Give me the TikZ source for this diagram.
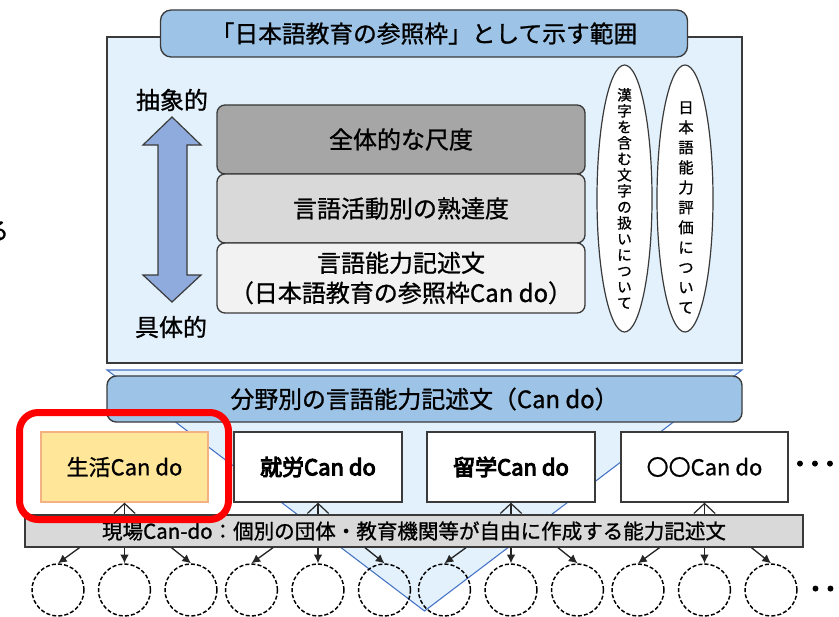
\documentclass[tikz,border=0pt]{standalone}
\usepackage{fontspec}
\setmainfont{Noto Sans CJK JP}[RawFeature={embolden=1}]
\newfontfamily\cjkbold[RawFeature={embolden=4.5}]{Noto Sans CJK JP}
\newfontfamily\cjkdots[RawFeature={embolden=3}]{Noto Sans CJK JP}
\usetikzlibrary{arrows.meta,calc,shapes.geometric}
\definecolor{paleblue}{HTML}{E2F1FC}
\definecolor{midblue}{HTML}{9DC3E6}
\definecolor{arrowblue}{HTML}{8FAADC}
\definecolor{edgeblue}{HTML}{4472C4}
\definecolor{dk}{HTML}{3A3A3A}
\definecolor{gA}{HTML}{A6A6A6}
\definecolor{gB}{HTML}{D9D9D9}
\definecolor{gC}{HTML}{F2F2F2}
\definecolor{yel}{HTML}{FFE699}
\definecolor{org}{HTML}{F4B183}
\tikzset{
  pane/.style={draw=dk, line width=1pt, inner sep=0pt},
  bigtxt/.style={font=\fontsize{18pt}{22.5pt}\selectfont},
  ladder/.style={pane, rounded corners=6pt, minimum width=368*0.75pt, align=center, bigtxt},
  oval/.style={ellipse, draw=dk, fill=white, line width=0.9pt, inner sep=0pt},
  cdbox/.style={pane, fill=white, minimum height=70*0.75pt, font=\fontsize{16.5pt}{20pt}\selectfont},
  ring/.style={circle, draw=black, dash pattern=on 3pt off 1.6pt, line width=1.1pt, minimum size=52*0.75pt, inner sep=0pt},
  uparr/.style={draw=black!85, line width=0.9pt, -{Straight Barb[length=7.5pt,width=16pt]}},
  dnarr/.style={draw=black!85, line width=1pt, -{Latex[length=6.5pt,width=6.5pt]}},
  dots/.style={font=\cjkdots\fontsize{22.5pt}{22.5pt}\selectfont, inner sep=0pt},
}
\begin{document}
\begin{tikzpicture}[x=0.75pt,y=-0.75pt]
\useasboundingbox (0,0) rectangle (839,617);
\clip (0,0) rectangle (839,617);
% cropped character at the left edge
\node[bigtxt, inner sep=0pt] (frag) at (-3,231) {る};
% background triangle
\filldraw[fill=paleblue, draw=edgeblue, line width=0.8pt] (107,370) -- (742,370) -- (424.5,611) -- cycle;
% main frame
\node[pane, fill=paleblue, minimum width=635*0.75pt, minimum height=326*0.75pt] (main) at (424.5,200) {};
\node[pane, fill=midblue, rounded corners=8pt, minimum width=527*0.75pt, minimum height=47*0.75pt, font=\fontsize{17.8pt}{20pt}\selectfont] (title) at (424,33.5) {「日本語教育の参照枠」として示す範囲};
% abstract / concrete arrow
\node[bigtxt] (abs) at (172,100) {抽象的};
\node[bigtxt] (con) at (171,327) {具体的};
\filldraw[fill=arrowblue, draw=dk, line width=0.9pt]
  (172,117) -- (201,145) -- (187,145) -- (187,275) -- (201,275) -- (172,302)
  -- (143,275) -- (158,275) -- (158,145) -- (143,145) -- cycle;
% ladder
\node[ladder, fill=gA, minimum height=69*0.75pt] (s1) at (401,139.5) {全体的な尺度};
\node[ladder, fill=gB, minimum height=69*0.75pt] (s2) at (401,208.5) {言語活動別の熟達度};
\node[ladder, fill=gC, minimum height=70*0.75pt] (s3) at (401,278) {言語能力記述文\\（日本語教育の参照枠Can do）};
% ovals
\node[oval, minimum width=55*0.75pt, minimum height=267*0.75pt] (e1) at (624.5,198.5) {};
\node[oval, minimum width=56*0.75pt, minimum height=267*0.75pt] (e2) at (685,198.5) {};
\node[align=center, inner sep=0pt, font=\fontsize{11pt}{12pt}\selectfont] (e1t) at (e1) {漢\\字\\を\\含\\む\\文\\字\\の\\扱\\い\\に\\つ\\い\\て};
\node[align=center, inner sep=0pt, font=\fontsize{11.5pt}{15pt}\selectfont] (e2t) at ($(e2)+(1,9)$) {日\\本\\語\\能\\力\\評\\価\\に\\つ\\い\\て};
% field band
\node[pane, fill=midblue, rounded corners=7pt, minimum width=635*0.75pt, minimum height=46*0.75pt, font=\fontsize{17.9pt}{20pt}\selectfont] (field) at (424.5,399) {分野別の言語能力記述文（Can do）};
% Can do boxes
\node[cdbox, fill=yel, draw=org, minimum width=167*0.75pt] (b1) at (124.5,467) {生活Can do};
\node[cdbox, minimum width=168*0.75pt, font=\cjkbold\fontsize{16.5pt}{20pt}\selectfont] (b2) at (318,467) {就労Can do};
\node[cdbox, minimum width=168*0.75pt, font=\cjkbold\fontsize{16.5pt}{20pt}\selectfont] (b3) at (511,467) {留学Can do};
\node[cdbox, minimum width=167*0.75pt] (b4) at (704.5,467) {〇〇Can do};
\node[dots] (d1) at (815,468) {･･･};
% on-site band
\node[pane, fill=gB, minimum width=778*0.75pt, minimum height=32*0.75pt, font=\fontsize{15.4pt}{18pt}\selectfont] (site) at (414,531) {現場Can-do：個別の団体・教育機関等が自由に作成する能力記述文};
\foreach \b in {b1,b2,b3,b4} {
  \draw[uparr] (site.north -| \b.south) -- (\b.south);
}
% circles and arrows
\foreach \b/\i in {b1/1,b2/2,b3/3,b4/4} {
  \node[ring] (c\i a) at ($(\b.center |- 0,590)+(-66.5,0)$) {};
  \node[ring] (c\i b) at ($(\b.center |- 0,590)$) {};
  \node[ring] (c\i c) at ($(\b.center |- 0,590)+(66.5,0)$) {};
  \draw[dnarr] ($(site.south -| \b.south)+(-45,0)$) -- (c\i a.north);
  \draw[dnarr] (site.south -| \b.south) -- (c\i b.north);
  \draw[dnarr] ($(site.south -| \b.south)+(47,0)$) -- (c\i c.north);
}
\node[dots] (d2) at (823,593) {･･};
% highlight
\node[draw=red, line width=5.25pt, rounded corners=14pt, minimum width=209*0.75pt, minimum height=107*0.75pt, inner sep=0pt] (hl) at (124,466) {};
\end{tikzpicture}
\end{document}
